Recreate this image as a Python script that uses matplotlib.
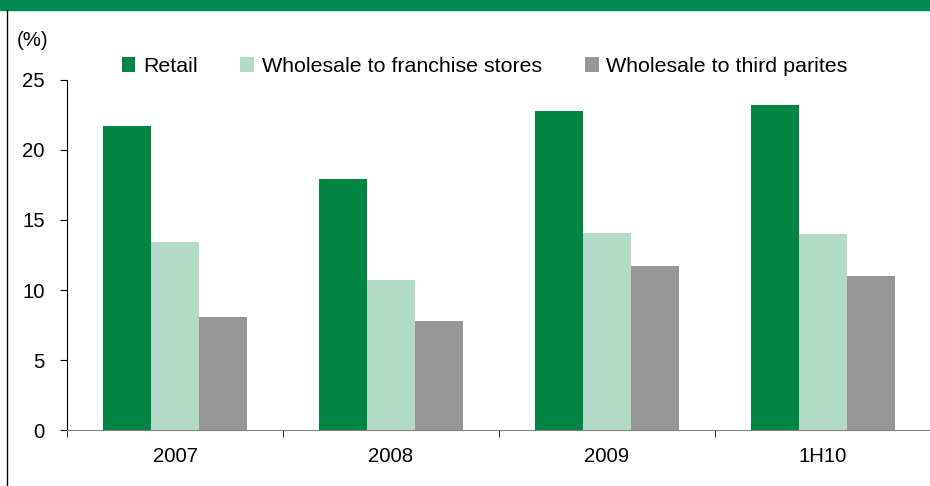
import matplotlib.pyplot as plt
import numpy as np
from matplotlib.patches import Rectangle
from matplotlib.lines import Line2D

plt.rcParams['font.family'] = ['Liberation Sans', 'DejaVu Sans']

periods = ['2007', '2008', '2009', '1H10']
retail = [21.7, 17.9, 22.8, 23.2]
franchise = [13.4, 10.7, 14.1, 14.0]
third = [8.1, 7.8, 11.7, 11.0]
names = ['Retail', 'Wholesale to franchise stores', 'Wholesale to third parites']
colors = ['#008542', '#b3dbc8', '#969696']

fig = plt.figure(figsize=(9.3, 4.86), dpi=100)
fig.patches.append(Rectangle((0, 1 - 10.5 / 486), 1, 10.5 / 486, transform=fig.transFigure,
                             color='#008a50', zorder=0))
fig.lines.append(Line2D([6.5 / 930, 6.5 / 930], [0, 1 - 10.5 / 486], transform=fig.transFigure,
                        color='black', lw=1))

ax = fig.add_axes([67 / 930, 1 - 430 / 486, 864 / 930, 350 / 486])
x = np.arange(len(periods))
w = 0.222
for i, (vals, c) in enumerate(zip([retail, franchise, third], colors)):
    ax.bar(x + (i - 1) * w, vals, w, color=c, label=names[i])

ax.set_xlim(-0.5, 3.5)
ax.set_ylim(0, 25)
ax.set_yticks([0, 5, 10, 15, 20, 25])
ax.set_xticks(x)
ax.set_xticklabels(periods)
ax.set_xticks([-0.5, 0.5, 1.5, 2.5], minor=True)
ax.tick_params(axis='x', which='major', length=0, pad=12, labelsize=14.7)
ax.tick_params(axis='x', which='minor', length=5, color='black', direction='out')
ax.tick_params(axis='y', length=5, direction='out', labelsize=14.7, pad=11)
ax.spines['top'].set_visible(False)
ax.spines['right'].set_visible(False)
ax.spines['bottom'].set_color('#808080')
ax.spines['left'].set_color('black')

fig.text(17 / 930, 1 - 40 / 486, '(%)', fontsize=14.7, va='center')
ax.legend(loc='upper left', bbox_to_anchor=(46 / 864, 1.09), ncol=3, frameon=False,
          fontsize=15.4, handlelength=0.65, handleheight=0.65, handletextpad=0.35,
          columnspacing=2.0, borderaxespad=0)

fig.savefig('out.png', dpi=100)
